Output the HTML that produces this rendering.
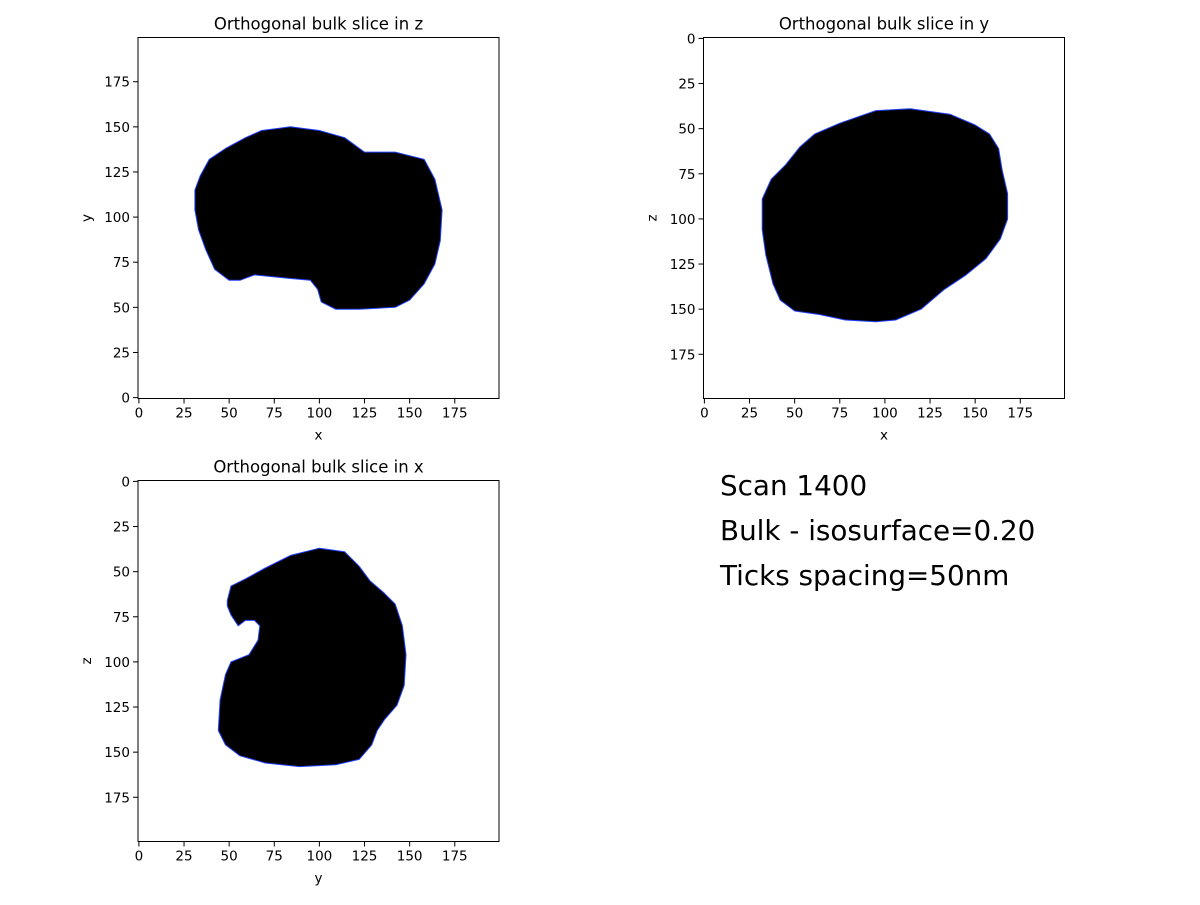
<!DOCTYPE html>
<html><head><meta charset="utf-8">
<style>
html,body{margin:0;padding:0;background:#fff;}
svg text{font-family:"DejaVu Sans","Liberation Sans",sans-serif;}
</style></head>
<body>
<svg id="fig" width="1200" height="900" viewBox="0 0 1200 900">
<rect width="1200" height="900" fill="#fff"/>
<text x="720" y="495" font-size="27.8">Scan 1400</text>
<text x="720" y="540" font-size="27.8">Bulk - isosurface=0.20</text>
<text x="720" y="585" font-size="27.8">Ticks spacing=50nm</text>
</svg>
<script>
const tickValues = [0,25,50,75,100,125,150,175];
const sliceZ_x = [31,34,39,48,59,68,84,100,114,125,142,158,164,168,167,164,158,150,142,122,109,101,99,95,84,64,56,50,42,37,33,31];
const sliceZ_y = [115,123,132,138,144,148,150,148,144,136,136,132,121,104,87,74,63,54,50,49,49,53,60,65,66,68,65,65,71,82,93,104];
const sliceY_x = [32,37,45,53,61,75,95,114,136,150,158,163,165,168,168,164,156,145,133,120,106,95,78,64,50,42,38,34,32];
const sliceY_z = [89,78,70,60,53,47,40,39,42,48,53,61,73,86,100,111,122,131,139,150,156,157,156,153,151,145,136,120,106];
const sliceX_y = [49,51,59,70,84,100,114,122,128,136,142,146,148,147,143,136,132,129,122,109,89,70,56,48,44,45,48,51,61,66,67,64,59,55,51,49];
const sliceX_z = [66,58,54,48,41,37,39,47,55,62,68,80,96,113,124,132,138,146,154,157,158,156,152,146,138,121,107,100,96,88,80,77,77,80,74,69];

const NS="http://www.w3.org/2000/svg";
const svg=document.getElementById('fig');
function mk(tag,attrs,parent){const e=document.createElementNS(NS,tag);for(const k in attrs)e.setAttribute(k,attrs[k]);(parent||svg).appendChild(e);return e;}

const U=361/200;
function panel(name,left,top,invert,title,xl,yl,xs,ys){
  const g=mk('g',{});
  
  
  const sx=v=>left+(v+0.5)*U;
  const sy=v=>invert? top+(v+0.5)*U : top+361-(v+0.5)*U;
  let pts=xs.map((v,i)=>sx(v).toFixed(1)+','+sy(ys[i]).toFixed(1)).join(' ');
  const poly=mk('polygon',{points:pts,fill:'#000',stroke:'#2040ff','stroke-width':1,'stroke-linejoin':'round'},g);
  
  
  const fr=mk('rect',{x:left,y:top,width:361,height:361,fill:'none',stroke:'#000','stroke-width':1},g);
  
  
  tickValues.forEach(t=>{
    const x=sx(t);
    mk('line',{x1:x,y1:top+361,x2:x,y2:top+366,stroke:'#000'},g);
    const tx=mk('text',{x:x,y:top+380,'font-size':13.5,'text-anchor':'middle'},g);tx.textContent=t;
    
    
    const y=sy(t);
    mk('line',{x1:left,y1:y,x2:left-5,y2:y,stroke:'#000'},g);
    const ty=mk('text',{x:left-8,y:y+5,'font-size':13.5,'text-anchor':'end'},g);ty.textContent=t;
    
    
  });
  const ti=mk('text',{x:left+180.5,y:top-8,'font-size':16.5,'text-anchor':'middle'},g);ti.textContent=title;
  
  
  const xt=mk('text',{x:left+180.5,y:top+402,'font-size':13.5,'text-anchor':'middle'},g);xt.textContent=xl;
  
  
  const yx=left-47, yy=top+180.5;
  const yt=mk('text',{x:yx,y:yy,'font-size':13.5,'text-anchor':'middle',transform:`rotate(-90 ${yx} ${yy})`},g);yt.textContent=yl;
  
  
}
panel('slice-z-panel',138,37.5,false,'Orthogonal bulk slice in z','x','y',sliceZ_x,sliceZ_y);
panel('slice-y-panel',703.5,37.5,true,'Orthogonal bulk slice in y','x','z',sliceY_x,sliceY_z);
panel('slice-x-panel',138,480.5,true,'Orthogonal bulk slice in x','y','z',sliceX_y,sliceX_z);
</script>
</body></html>
